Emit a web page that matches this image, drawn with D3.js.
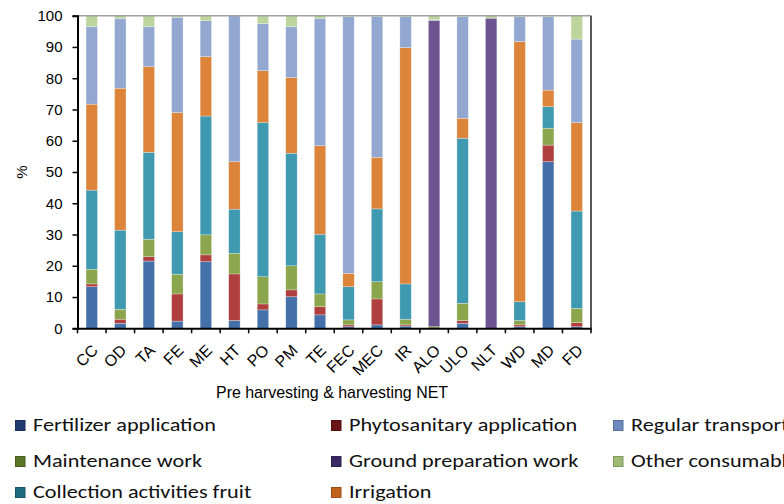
<!DOCTYPE html>
<html>
<head>
<meta charset="utf-8">
<script src="https://cdn.jsdelivr.net/npm/d3@7"></script>
<style>
  body { margin: 0; background: #fff; }
  svg { display: block; }
  .axis text { font-family: "Liberation Sans", Arial, sans-serif; font-size: 15px; fill: #000; }
  .legend text { font-family: Carlito, Calibri, "Liberation Sans", sans-serif; font-size: 19px; fill: #111; }
</style>
</head>
<body>
<div class="chart"></div>
<script>
var categories = ['CC', 'OD', 'TA', 'FE', 'ME', 'HT', 'PO', 'PM', 'TE', 'FEC', 'MEC', 'IR', 'ALO', 'ULO', 'NLT', 'WD', 'MD', 'FD'];

// stacked from bottom to top
var fertilizer    = [13.3, 1.6, 21.5, 2.3, 21.3, 2.5, 5.9, 10.1, 4.3, 0.5, 1.1, 0.7, 0, 1.6, 0, 0.5, 53.3, 0.5];
var phytosanitary = [0.9, 1.3, 1.4, 8.7, 2.2, 14.9, 1.9, 2.2, 2.6, 0.6, 8.3, 0.4, 0, 0.9, 0, 0.6, 5.3, 1.3];
var maintenance   = [4.7, 3.2, 5.6, 6.3, 6.4, 6.6, 8.7, 7.7, 4.1, 1.6, 5.5, 1.8, 0.5, 5.5, 0, 1.4, 5.4, 4.6];
var ground        = [0, 0, 0, 0, 0, 0, 0, 0, 0, 0, 0, 0, 97.9, 0, 99.2, 0, 0, 0];
var collection    = [25.3, 25.3, 27.8, 13.6, 38.0, 14.1, 49.3, 36.0, 19.1, 10.6, 23.3, 11.3, 0, 52.8, 0, 6.0, 6.9, 31.1];
var irrigation    = [27.5, 45.4, 27.4, 38.1, 19.0, 15.2, 16.6, 24.2, 28.3, 4.3, 16.5, 75.6, 0, 6.4, 0, 83.2, 5.3, 28.3];
var transport     = [24.8, 22.3, 12.8, 30.5, 11.5, 46.7, 15.1, 16.3, 40.7, 82.1, 45.0, 9.9, 0.3, 32.5, 0, 8.0, 23.5, 26.7];
var other         = [3.5, 0.9, 3.5, 0.5, 1.6, 0, 2.5, 3.5, 0.9, 0.3, 0.3, 0.3, 1.3, 0.3, 0.8, 0.3, 0.3, 7.5];

var yTicks = [0, 10, 20, 30, 40, 50, 60, 70, 80, 90, 100];

var series = [
    { key: 'fert',  name: 'Fertilizer application',      values: fertilizer,    color: '#4471a9', dark: '#1f3a70' },
    { key: 'phyto', name: 'Phytosanitary application',   values: phytosanitary, color: '#b0403f', dark: '#6a1515' },
    { key: 'maint', name: 'Maintenance work',            values: maintenance,   color: '#8ba64c', dark: '#5a7626' },
    { key: 'grd',   name: 'Ground preparation work',     values: ground,        color: '#6c5491', dark: '#3a2a62' },
    { key: 'coll',  name: 'Collection activities fruit', values: collection,    color: '#3f99b1', dark: '#1d6b7e' },
    { key: 'irr',   name: 'Irrigation',                  values: irrigation,    color: '#dd843b', dark: '#c0621c' },
    { key: 'trans', name: 'Regular transport',           values: transport,     color: '#93a8d1', dark: '#6d88bd' },
    { key: 'oth',   name: 'Other consumables',           values: other,         color: '#bdd49c', dark: '#9dbb74' }
];

// legend is laid out row by row, three columns
var legendOrder = ['fert', 'phyto', 'trans', 'maint', 'grd', 'oth', 'coll', 'irr'];

var table = categories.map(function (c, i) {
    var row = { cat: c };
    series.forEach(function (s) { row[s.key] = s.values[i]; });
    return row;
});

var width = 784, height = 504;
var margin = { top: 15.7, left: 77.5, right: 193, bottom: 175.7 };
var plotW = width - margin.left - margin.right;
var plotH = height - margin.top - margin.bottom;

var svg = d3.select('.chart').append('svg')
    .attr('width', width)
    .attr('height', height);

var g = svg.append('g')
    .attr('transform', 'translate(' + margin.left + ',' + margin.top + ')');

var x = d3.scaleBand().domain(categories).range([0, plotW]).paddingInner(0.6).paddingOuter(0.3);
var y = d3.scaleLinear().domain([0, 100]).range([plotH, 0]);

var stack = d3.stack().keys(series.map(function (s) { return s.key; }));
var layers = stack(table);

g.selectAll('.layer')
    .data(layers)
    .enter().append('g')
    .attr('class', 'layer')
    .attr('fill', function (d, i) { return series[i].color; })
    .selectAll('rect')
    .data(function (d) { return d; })
    .enter().append('rect')
    .attr('x', function (d) { return x(d.data.cat); })
    .attr('width', x.bandwidth())
    .attr('y', function (d) { return y(d[1]); })
    .attr('height', function (d) { return Math.max(0, y(d[0]) - y(d[1])); })
    .attr('stroke', 'rgba(255,255,255,0.45)')
    .attr('stroke-width', 0.6);

// frame
g.append('line').attr('x1', 0).attr('x2', plotW).attr('y1', 0).attr('y2', 0)
    .attr('stroke', '#a0a0a0').attr('stroke-width', 1.5);
g.append('line').attr('x1', plotW).attr('x2', plotW).attr('y1', 0).attr('y2', plotH)
    .attr('stroke', '#222').attr('stroke-width', 1.5);

// y axis
var yAxis = g.append('g').attr('class', 'axis')
    .call(d3.axisLeft(y).tickValues(yTicks).tickSize(5).tickPadding(10));
yAxis.select('.domain').attr('stroke', '#000').attr('stroke-width', 2);
yAxis.selectAll('.tick line').attr('stroke', '#000').attr('stroke-width', 1.5);

// x axis, ticks sit between the categories
var xAxis = g.append('g').attr('class', 'axis')
    .attr('transform', 'translate(0,' + plotH + ')')
    .call(d3.axisBottom(x).tickSize(0).tickSizeOuter(0));
xAxis.select('.domain').attr('stroke', '#000').attr('stroke-width', 2);
xAxis.selectAll('.tick text')
    .style('font-size', '16px')
    .attr('text-anchor', 'end')
    .attr('dx', 0)
    .attr('dy', 0)
    .attr('transform', 'translate(5,21) rotate(-45)');

var step = x.step();
var bounds = d3.range(categories.length + 1).map(function (i) { return x(categories[0]) - x.paddingOuter() * step + i * step; });
xAxis.selectAll('.sep')
    .data(bounds)
    .enter().append('line')
    .attr('class', 'sep')
    .attr('x1', function (d) { return d; })
    .attr('x2', function (d) { return d; })
    .attr('y1', 0).attr('y2', 5)
    .attr('stroke', '#000').attr('stroke-width', 1.5);

// axis titles
svg.append('text')
    .attr('transform', 'translate(27,172) rotate(-90)')
    .attr('text-anchor', 'middle')
    .style('font-family', '"Liberation Sans", Arial, sans-serif')
    .style('font-size', '15px')
    .text('%');

svg.append('text')
    .attr('x', 332).attr('y', 398)
    .attr('text-anchor', 'middle')
    .attr('textLength', 232)
    .attr('lengthAdjust', 'spacingAndGlyphs')
    .style('font-family', '"Liberation Sans", Arial, sans-serif')
    .style('font-size', '17px')
    .text('Pre harvesting & harvesting NET');

// legend
var colX = [15, 331, 613];
var rowY = [431, 467, 498];
var byKey = {};
series.forEach(function (s) { byKey[s.key] = s; });

var legend = svg.append('g').attr('class', 'legend');
var items = legend.selectAll('.item')
    .data(legendOrder.map(function (k) { return byKey[k]; }))
    .enter().append('g')
    .attr('class', 'item')
    .attr('transform', function (d, i) {
        return 'translate(' + colX[i % 3] + ',' + rowY[Math.floor(i / 3)] + ')';
    });

items.append('rect')
    .attr('x', 0.5).attr('y', -10.5)
    .attr('width', 9.5).attr('height', 10)
    .attr('fill', function (d) { return d.dark; })
    .attr('stroke', function (d) { return d3.color(d.dark).darker(0.6); })
    .attr('stroke-width', 1);

items.append('text')
    .attr('transform', 'translate(18,0) scale(1.17,1)')
    .text(function (d) { return d.name; });
</script>
</body>
</html>
